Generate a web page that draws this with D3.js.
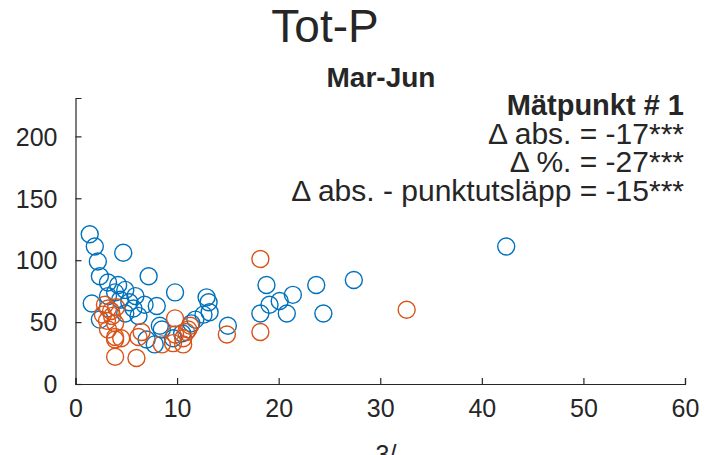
<!DOCTYPE html>
<html>
<head>
<meta charset="utf-8">
<script src="https://cdn.jsdelivr.net/npm/d3@7"></script>
<style>
  body { margin: 0; background: #fff; }
  svg text { font-family: "Liberation Sans", Arial, sans-serif; fill: #262626; }
</style>
</head>
<body>
<svg id="chart" width="705" height="455"></svg>
<script>
// before (blue) and after (orange) - x = flow, y = Tot-P
const beforeX = [1.4, 1.9, 2.2, 4.7, 2.4, 7.2, 3.2, 4.2, 4.9, 1.6, 3.2, 3.9, 5.9, 5.7, 6.8, 8.0, 6.2, 4.9, 2.4,
    8.3, 7.0, 7.8, 10.5, 9.8, 12.9, 13.1, 13.2, 12.6, 15.0, 11.8, 11.4, 9.6, 8.5,
    18.8, 18.2, 19.1, 20.1, 20.8, 21.4, 23.7, 24.4, 27.4, 42.4, 5.3, 4.4];
const beforeY = [121, 111, 99, 106, 87, 87, 82, 80, 76, 65, 71, 74, 71, 61, 64, 63, 55, 57, 52,
    47, 36, 32, 41, 74, 70, 66, 58, 56, 47, 52, 49, 37, 44,
    80, 57, 64, 67, 57, 72, 80, 57, 84, 111, 66, 68];
const afterX = [2.9, 3.2, 2.7, 3.6, 3.1, 3.9, 3.2, 3.9, 3.9, 4.5, 6.5, 6.2, 9.8, 3.9, 6.0,
    9.6, 10.6, 11.1, 11.3, 10.9, 10.6, 9.8, 8.5, 14.9, 18.2, 18.2, 32.6, 3.5, 4.0];
const afterY = [64, 61, 56, 55, 51, 49, 44, 38, 36, 37, 42, 38, 53, 22, 21,
    33, 32, 44, 47, 42, 37, 40, 32, 40, 101, 42, 60, 59, 62];

const xTicks = [0, 10, 20, 30, 40, 50, 60];
const yTicks = [0, 50, 100, 150, 200];

const svg = d3.select("#chart");
const plotLeft = 75.5, plotRight = 685, plotTop = 98, plotBottom = 384;

const x = d3.scaleLinear().domain([0, 60]).range([plotLeft, plotRight]);
const y = d3.scaleLinear().domain([0, 231]).range([plotBottom, plotTop]);

// axes (matlab style, ticks inside)
const xAxis = svg.append("g")
    .attr("transform", `translate(0,${plotBottom})`)
    .call(d3.axisBottom(x).tickValues(xTicks).tickSize(-6).tickPadding(15));
const yAxis = svg.append("g")
    .attr("transform", `translate(${plotLeft},0)`)
    .call(d3.axisLeft(y).tickValues(yTicks).tickSize(-6).tickPadding(18));

[xAxis, yAxis].forEach(function(g) {
    g.select(".domain").attr("stroke", "#262626").attr("stroke-width", 1.2);
    g.selectAll(".tick line").attr("stroke", "#262626").attr("stroke-width", 1.2);
    g.selectAll(".tick text").style("font-size", "25px").attr("fill", "#262626");
});
yAxis.selectAll(".tick text").attr("dy", "0.35em");
xAxis.selectAll(".tick text").attr("dy", "0.72em");

function drawDots(xs, ys, color) {
    svg.append("g").selectAll("circle")
        .data(xs)
        .enter().append("circle")
        .attr("cx", function(d) { return x(d); })
        .attr("cy", function(d, i) { return y(ys[i]); })
        .attr("r", 8.5)
        .attr("fill", "none")
        .attr("stroke", color)
        .attr("stroke-width", 1.4);
}
drawDots(beforeX, beforeY, "#0072BD");
drawDots(afterX, afterY, "#D95319");

// titles
svg.append("text").attr("x", 325).attr("y", 42)
    .attr("text-anchor", "middle").style("font-size", "46px").attr("fill", "#000")
    .text("Tot-P");
svg.append("text").attr("x", 381).attr("y", 87)
    .attr("text-anchor", "middle").style("font-size", "28px").style("font-weight", "bold").attr("fill", "#000")
    .text("Mar-Jun");

const notes = [
    { t: "Mätpunkt # 1", bold: true },
    { t: "Δ abs. = -17***", bold: false },
    { t: "Δ %. = -27***", bold: false },
    { t: "Δ abs. - punktutsläpp = -15***", bold: false }
];
svg.selectAll(".note").data(notes).enter().append("text")
    .attr("class", "note")
    .attr("x", 684)
    .attr("y", function(d, i) { return 115 + i * 28.5; })
    .attr("text-anchor", "end")
    .style("font-size", function(d) { return d.bold ? "29px" : "30px"; })
    .style("font-weight", function(d) { return d.bold ? "bold" : "normal"; })
    .attr("fill", "#000")
    .text(function(d) { return d.t; });

// x label, cut off at bottom of figure
svg.append("text").attr("x", 386).attr("y", 463)
    .attr("text-anchor", "middle").style("font-size", "25px")
    .text("3/");
</script>
</body>
</html>
